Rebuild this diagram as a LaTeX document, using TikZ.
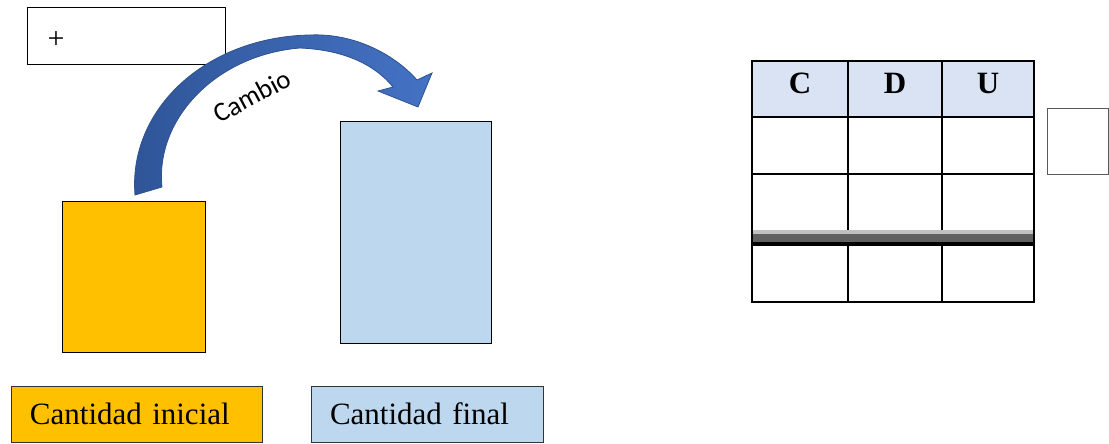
\documentclass[tikz,border=0pt]{standalone}
\usepackage{fontspec}
\newfontfamily\tnr{Liberation Serif}
\newfontfamily\calib{Carlito}
\definecolor{yel}{HTML}{FFC000}
\definecolor{lblue}{HTML}{BDD7EE}
\definecolor{hdrfill}{HTML}{DAE3F3}
\definecolor{arrdark}{HTML}{2F5597}
\definecolor{arrlight}{HTML}{4472C4}
\definecolor{arredge}{HTML}{2F528F}
\definecolor{bandlight}{HTML}{C0C0C0}
\definecolor{banddark}{HTML}{606060}
\tikzset{
  plainbox/.style={draw=black, line width=1pt},
  lblbox/.style={draw=black!80, line width=1pt, inner xsep=19pt, inner ysep=0pt,
     text width=#1, align=left, font=\tnr\fontsize{31}{36}\selectfont},
  hdrtext/.style={anchor=base, font=\tnr\bfseries\fontsize{31}{36}\selectfont, inner sep=0pt},
  tline/.style={line width=2pt, draw=black},
}
\begin{document}
\begin{tikzpicture}[x=1pt,y=-1pt]
\useasboundingbox (0,0) rectangle (1109,444);

% plus box
\node[plainbox, minimum width=198pt, minimum height=57pt, anchor=north west, inner sep=0pt] (plusbox) at (27,7) {};
\node[font=\tnr\fontsize{30}{34}\selectfont, inner sep=0pt] (plus) at (56,40) {+};

% quantity rectangles
\node[plainbox, fill=yel, minimum width=143pt, minimum height=151pt, anchor=north west, inner sep=0pt] (ini) at (62,201) {};
\node[plainbox, fill=lblue, minimum width=151pt, minimum height=222pt, anchor=north west, inner sep=0pt] (fin) at (340,121) {};

% curved arrow
\coordinate (tailL) at (135,195);
\coordinate (tailR) at (162,187);
\coordinate (tip) at (418,107);
\shadedraw[left color=arrdark, right color=arrlight, draw=arredge, line width=0.8pt, line join=miter]
  (tailL) .. controls (128,110) and (205,37) .. (310,35)
  .. controls (355,33) and (395,55) .. (417,80)
  -- (432,73) -- (tip) -- (378,91) -- (393,87)
  .. controls (375,65) and (345,50) .. (300,48)
  .. controls (215,55) and (155,120) .. (tailR) -- cycle;
\node[font=\calib\fontsize{27}{32}\selectfont, rotate=28, inner sep=0pt] (cambio) at (252,96) {Cambio};

% labels
\node[lblbox=213pt, fill=yel, minimum width=251pt, minimum height=56pt] (lblini) at (136.5,414) {Cantidad inicial};
\node[lblbox=194pt, fill=lblue, minimum width=232pt, minimum height=56pt] (lblfin) at (427,414) {Cantidad final};

% table
\fill[hdrfill] (752,61) rectangle (1034,117);
\fill[bandlight] (752,230) rectangle (1034,234);
\fill[banddark] (752,234) rectangle (1034,242);
\fill[black] (752,242) rectangle (1034,246);
\coordinate (tNW) at (752,61);
\coordinate (tSE) at (1034,302);
\draw[tline] (752,117) -- (1034,117);
\draw[tline] (752,174) -- (1034,174);
\draw[tline] (848,61) -- (848,230);
\draw[tline] (942,61) -- (942,230);
\draw[tline] (848,246) -- (848,302);
\draw[tline] (942,246) -- (942,302);
\draw[line width=2.4pt] (tNW) rectangle (tSE);
\node[hdrtext] (hC) at (800,93) {C};
\node[hdrtext] (hD) at (895,93) {D};
\node[hdrtext] (hU) at (988,93) {U};

% small box
\node[draw=black!65, line width=1pt, minimum width=61pt, minimum height=66pt, anchor=north west, inner sep=0pt] (small) at (1047,108) {};
\end{tikzpicture}
\end{document}
